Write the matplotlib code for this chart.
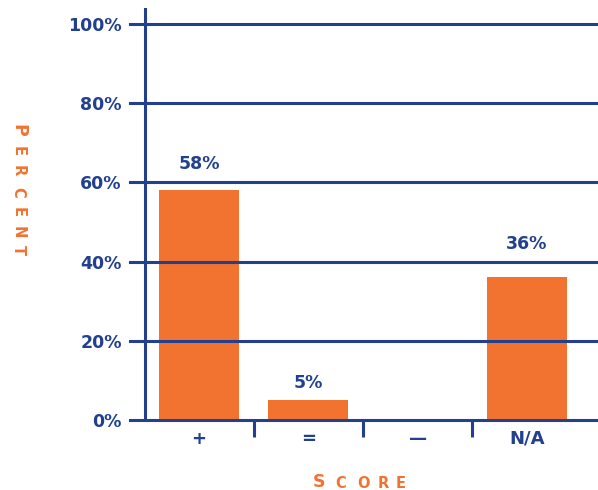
import numpy as np
import matplotlib.pyplot as plt

categories = ['+', '=', '\u2014', 'N/A']
percent = [58, 5, 0, 36]
value_labels = ['58%', '5%', '', '36%']
label_gap = [17, 8, 0, 24]  # px above bar top
yticks = [0, 20, 40, 60, 80, 100]

blue = '#22408e'
orange = '#f27330'

W, H = 598, 490
fig = plt.figure(figsize=(W / 100, H / 100), dpi=100)
ax = fig.add_axes([130 / W, 70 / H, 468 / W, 412 / H])

x = np.arange(len(categories))
ax.bar(x, percent, width=0.73, color=orange, zorder=1)

# gridlines double as ticks on the left
for v in yticks:
    ax.axhline(v, color=blue, lw=2.2, zorder=2, clip_on=False)
ax.axvline(-0.494, color=blue, lw=2.2, zorder=3)
ax.vlines([0.5, 1.5, 2.5], -4.3, 0, color=blue, lw=2.2, clip_on=False)

ax.set_xlim(-0.631, 3.65)
ax.set_ylim(0, 104)
for s in ax.spines.values():
    s.set_visible(False)

ax.set_yticks(yticks)
ax.set_yticklabels([f'{v}%' for v in yticks])
ax.set_xticks(x)
ax.set_xticklabels(categories)
ax.tick_params(axis='y', length=0, pad=6, labelsize=12.5, labelcolor=blue)
ax.tick_params(axis='x', length=0, pad=7, labelsize=13, labelcolor=blue)
for t in ax.get_xticklabels() + ax.get_yticklabels():
    t.set_fontweight('bold')

for xi, v, lab, gap in zip(x, percent, value_labels, label_gap):
    if lab:
        ax.annotate(lab, (xi, v), xytext=(0, gap * 0.72), textcoords='offset points',
                    ha='center', va='bottom', fontsize=12.5, fontweight='bold', color=blue)

# small-caps axis titles, letter by letter
def spaced(letters, pos, sizes, rot):
    for ch, (px, py), fs in zip(letters, pos, sizes):
        fig.text(px / W, 1 - py / H, ch, ha='center', va='center', rotation=rot,
                 fontsize=fs, fontweight='bold', color=orange)

spaced('SCORE', [(319, 482), (341, 483), (363, 483), (383, 483), (401, 483)],
       [12.5, 10.5, 10.5, 10.5, 10.5], 0)
spaced('PERCENT', [(18, 130), (18, 151), (18, 171), (18, 192), (18, 212), (18, 232), (18, 250)],
       [12.5, 10.5, 10.5, 10.5, 10.5, 10.5, 10.5], -90)

fig.savefig('out.png', dpi=100)
